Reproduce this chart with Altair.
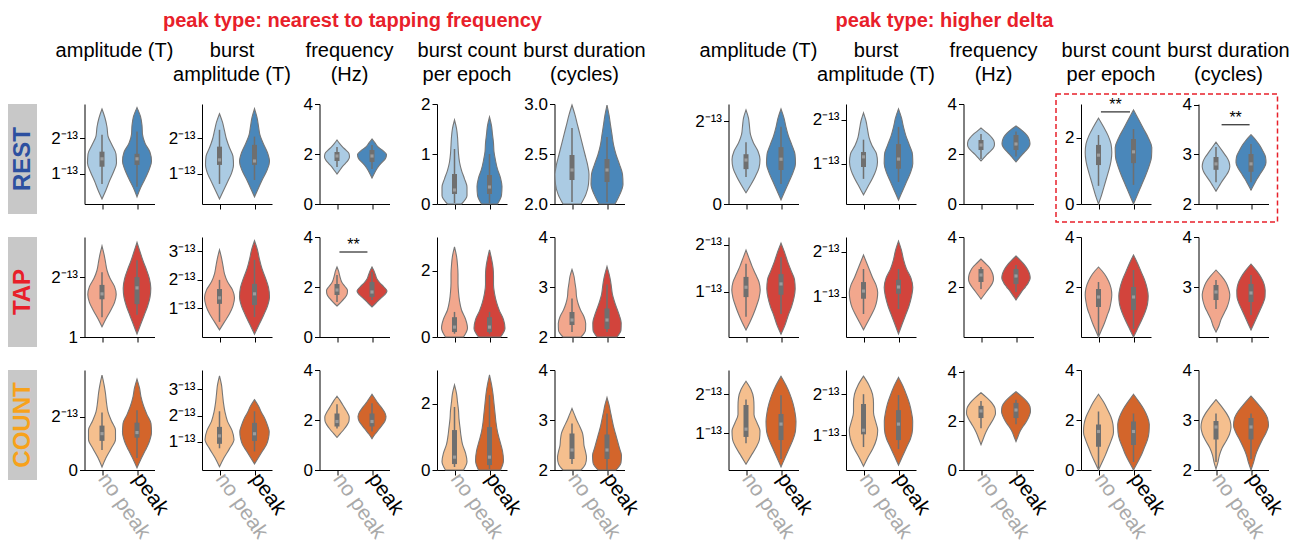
import altair as alt
import pandas as pd

FONT = "Liberation Sans"
SUP = "⁻¹³"

GROUP_TITLES = ["peak type: nearest to tapping frequency", "peak type: higher delta"]
METRIC_TITLES = [["amplitude (T)", " "], ["burst", "amplitude (T)"], ["frequency", "(Hz)"],
                 ["burst count", "per epoch"], ["burst duration", "(cycles)"]]
CONDITIONS = ["REST", "TAP", "COUNT"]
CONDITION_COLORS = ["#2d50a0", "#e8202a", "#f7a21b"]
CATEGORIES = ["no peak", "peak"]
VIOLIN_COLORS = [["#abcbe3", "#4a87ba"], ["#f2a78d", "#d2443c"], ["#f5bf8e", "#d3652b"]]

# ---- y axis ranges / ticks (10 panels per row: 5 'nearest', 5 'higher delta') ----
REST_YDOMAIN = [[0.16, 2.95], [0.16, 2.95], [0, 4], [0, 2], [2, 3], [0, 2.41], [0.09, 2.36], [0, 4], [0, 3.03], [2, 4.02]]
TAP_YDOMAIN = [[1, 2.67], [0, 3.5], [0, 4], [0, 3.03], [2, 4], [0.04, 2.17], [0.11, 2.33], [0, 4], [0, 4], [2, 4]]
COUNT_YDOMAIN = [[0, 3.74], [-0.06, 3.72], [0, 4], [0, 3.03], [2, 4], [0.05, 2.62], [0.15, 2.59], [0, 4.1], [0, 4], [2, 4]]

REST_YTICKS = [[1, 2], [1, 2], [0, 2, 4], [0, 1, 2], [2, 2.5, 3], [0, 2], [1, 2], [0, 2, 4], [0, 2], [2, 3, 4]]
TAP_YTICKS = [[1, 2], [1, 2, 3], [0, 2, 4], [0, 2], [2, 3, 4], [1, 2], [1, 2], [2, 4], [2, 4], [3, 4]]
COUNT_YTICKS = [[0, 2], [1, 2, 3], [0, 2, 4], [0, 2], [2, 3, 4], [1, 2], [1, 2], [0, 2, 4], [0, 2, 4], [2, 3, 4]]

REST_YLABELS = [["1" + SUP, "2" + SUP], ["1" + SUP, "2" + SUP], ["0", "2", "4"], ["0", "1", "2"],
                ["2.0", "2.5", "3.0"], ["0", "2" + SUP], ["1" + SUP, "2" + SUP], ["0", "2", "4"],
                ["0", "2"], ["2", "3", "4"]]
TAP_YLABELS = [["1", "2" + SUP], ["1" + SUP, "2" + SUP, "3" + SUP], ["0", "2", "4"], ["0", "2"],
               ["2", "3", "4"], ["1" + SUP, "2" + SUP], ["1" + SUP, "2" + SUP], ["2", "4"],
               ["2", "4"], ["3", "4"]]
COUNT_YLABELS = [["0", "2" + SUP], ["1" + SUP, "2" + SUP, "3" + SUP], ["0", "2", "4"], ["0", "2"],
                 ["2", "3", "4"], ["1" + SUP, "2" + SUP], ["1" + SUP, "2" + SUP], ["0", "2", "4"],
                 ["0", "2", "4"], ["2", "3", "4"]]

# ---- violin shapes: (min, max, relative half-width read at 11 evenly spaced levels) ----
REST_NOPEAK_SHAPE = [
    (0.30, 2.81, [0, 4, 7.5, 11.5, 14.5, 14, 10, 6, 5, 3, 0]),
    (0.30, 2.68, [0, 4, 8, 12, 14, 13.5, 10, 7, 5, 3, 0]),
    (1.20, 2.56, [0, 2.5, 5, 8, 11, 12.5, 12, 9, 5.5, 2.5, 0]),
    (0.00, 1.68, [7, 12.5, 12.5, 10, 7, 5, 4, 3.5, 3, 2, 0]),
    (2.00, 2.99, [9, 14, 16.5, 17, 15.5, 13, 10.5, 8, 5.5, 3, 0]),
    (0.27, 2.27, [0, 5, 9.5, 13, 14, 12, 7.5, 4.5, 3.5, 2.5, 0]),
    (0.30, 2.16, [0, 4.5, 9, 12.5, 14, 13, 8.5, 5.5, 4, 2.5, 0]),
    (1.72, 3.04, [0, 3, 6, 9.5, 12.5, 13.5, 13, 11, 8, 4, 0]),
    (0.00, 2.60, [0, 3, 5.5, 8, 10.5, 12.5, 13.3, 12.5, 9.5, 5, 0]),
    (2.26, 3.25, [0, 3, 6, 9.5, 12.5, 13.8, 13, 10.5, 7, 3.5, 0]),
]
REST_PEAK_SHAPE = [
    (0.36, 2.85, [0, 3.5, 8, 12, 14.5, 13, 8, 5.5, 5, 3.5, 0]),
    (0.36, 2.82, [0, 4, 8, 12.5, 15, 13, 9, 5.5, 4, 2.5, 0]),
    (1.04, 2.60, [0, 2, 4, 6.5, 10, 13.5, 14.5, 11, 6, 3, 0]),
    (0.00, 1.74, [8, 12, 12.5, 11, 8, 6, 4.5, 4, 3, 2, 0]),
    (2.00, 2.99, [8, 13, 16, 15.5, 12.5, 9, 6.5, 5, 3.5, 2, 0]),
    (0.10, 2.29, [0, 4, 8, 12, 14.5, 14, 11, 7.5, 5, 3, 0]),
    (0.18, 2.25, [0, 4, 8, 12, 14.3, 14, 11, 7.5, 5, 3, 0]),
    (1.68, 3.12, [0, 3, 6, 9.5, 12.5, 14, 13.5, 12, 9, 5, 0]),
    (0.00, 2.85, [0, 4, 8, 12, 15.5, 18, 18.3, 15, 10, 5, 0]),
    (2.28, 3.40, [0, 3, 6, 9.5, 13, 15, 14.5, 12, 9, 5, 0]),
]
TAP_NOPEAK_SHAPE = [
    (1.17, 2.52, [0, 4, 8.5, 12.5, 14.2, 12.5, 8, 5, 3.5, 2, 0]),
    (0.25, 3.05, [0, 5, 10, 13.5, 15, 13, 8, 5, 3.5, 2, 0]),
    (1.24, 2.80, [0, 4, 7.5, 10, 10.5, 8, 5, 3.5, 2.5, 1.5, 0]),
    (0.00, 2.73, [9, 13, 11, 7, 5, 4, 3.5, 3.5, 3, 2, 0]),
    (2.00, 3.35, [9, 13.5, 13.7, 12, 8.5, 6, 4.5, 4, 3, 2, 0]),
    (0.19, 1.89, [0, 4, 7.5, 10.5, 13, 14.2, 13, 9.5, 6, 3, 0]),
    (0.27, 1.93, [0, 4, 8, 11.5, 13.5, 14.2, 12.5, 9, 6, 3, 0]),
    (1.52, 3.12, [0, 3, 6, 9, 11.5, 12.5, 12, 10.5, 8, 4, 0]),
    (0.00, 2.80, [0, 3, 6, 8.5, 11, 12.5, 13.3, 12.5, 10, 6, 0]),
    (2.10, 3.34, [0, 3, 5, 8, 11, 13, 13.8, 12.5, 10, 5.5, 0]),
]
TAP_PEAK_SHAPE = [
    (1.05, 2.58, [0, 3.5, 7, 10.5, 13, 13.8, 12.5, 9.5, 6, 3, 0]),
    (0.10, 3.37, [0, 4.5, 9, 13, 15, 14, 11, 7.5, 5, 3, 0]),
    (1.20, 2.80, [0, 4, 8, 12.5, 15, 12, 8, 5, 3.5, 2, 0]),
    (0.00, 2.64, [11, 15.5, 14, 10, 7, 5, 4, 4, 3.5, 2, 0]),
    (2.00, 3.41, [10, 14, 14.2, 12.5, 10, 7.5, 5.5, 4.5, 3.5, 2, 0]),
    (0.10, 2.04, [0, 4, 7, 10.5, 13, 14.2, 13.5, 10, 6.5, 3.5, 0]),
    (0.18, 2.24, [0, 3.5, 7, 10.5, 13, 14.3, 12.5, 8, 5, 3, 0]),
    (1.48, 3.24, [0, 3, 6, 9.5, 12.5, 14.2, 13.5, 11.5, 8.5, 4.5, 0]),
    (0.00, 3.28, [0, 4, 8, 11.5, 14, 14.7, 13.5, 11, 7.5, 4, 0]),
    (2.14, 3.46, [0, 3, 6, 9, 12, 14, 14.2, 13, 10, 5.5, 0]),
]
COUNT_NOPEAK_SHAPE = [
    (0.11, 3.55, [0, 4, 9, 13.5, 13.5, 9.5, 6, 4.5, 3.5, 2, 0]),
    (0.06, 3.50, [0, 4.5, 10, 14.5, 12.5, 8, 5.5, 4, 3, 2, 0]),
    (1.30, 2.95, [0, 3.5, 7, 10, 12, 12.2, 10.5, 8, 5.5, 3, 0]),
    (0.00, 2.58, [9, 12.5, 11, 8, 6.5, 5.5, 4.5, 4, 3, 2, 0]),
    (2.00, 3.23, [9, 13.5, 14.5, 13.5, 12, 11.5, 10.5, 8, 5, 2.5, 0]),
    (0.20, 2.33, [0, 5, 10, 13.5, 14, 11, 8, 8, 7.5, 5, 0]),
    (0.24, 2.44, [0, 4.5, 9.5, 13, 14.2, 12, 10, 10, 9, 5.5, 0]),
    (1.04, 3.17, [0, 2, 4, 6.5, 9.5, 12.5, 14.5, 14, 11, 6, 0]),
    (0.00, 3.03, [0, 3.5, 7, 10, 13, 15, 14.5, 12.5, 9, 5, 0]),
    (2.02, 3.41, [0, 2, 3.5, 6, 10, 13.5, 15, 14, 10.5, 5.5, 0]),
]
COUNT_PEAK_SHAPE = [
    (0.08, 3.40, [0, 4, 8.5, 12.5, 14.5, 14, 10, 6.5, 4, 2.5, 0]),
    (0.17, 2.60, [0, 4, 8, 12, 14, 14.7, 13, 10.5, 7, 4, 0]),
    (1.25, 3.03, [0, 3, 6.5, 10, 13, 14, 12.5, 9.5, 6, 3, 0]),
    (0.00, 2.88, [11, 14, 13, 10.5, 8, 6.5, 5.5, 4.5, 3.5, 2, 0]),
    (2.00, 3.45, [9, 14, 14.5, 12.5, 10.5, 8.5, 6.5, 5, 3.5, 2, 0]),
    (0.13, 2.46, [0, 4, 8, 12, 14.5, 15, 14, 12, 9, 5, 0]),
    (0.27, 2.41, [0, 4, 8, 12, 14, 14.2, 13, 11, 8, 4.5, 0]),
    (1.17, 3.21, [0, 2, 4, 7, 10.5, 13, 14.5, 14, 11, 6, 0]),
    (0.00, 3.03, [0, 4, 8, 11, 14, 15.5, 15.8, 14, 10.5, 5.5, 0]),
    (2.00, 3.48, [0, 2.5, 4.5, 7.5, 11, 15, 17.5, 16.5, 12.5, 6.5, 0]),
]

# ---- inner box: (whisker low, q1, median, q3, whisker high) ----
REST_NOPEAK_BOX = [(0.72, 1.20, 1.42, 1.62, 2.09), (0.72, 1.25, 1.39, 1.76, 2.23), (1.48, 1.72, 1.92, 2.08, 2.28),
                   (0.02, 0.20, 0.28, 0.60, 1.10), (2.02, 2.24, 2.34, 2.49, 2.76), (0.65, 0.84, 1.06, 1.20, 1.49),
                   (0.66, 0.93, 1.16, 1.27, 1.55), (1.80, 2.16, 2.36, 2.56, 2.80), (0.55, 1.18, 1.48, 1.79, 2.09),
                   (2.44, 2.69, 2.81, 2.95, 3.15)]
REST_PEAK_BOX = [(0.64, 1.25, 1.42, 1.56, 2.18), (0.83, 1.25, 1.36, 1.81, 2.04), (1.40, 1.68, 1.92, 2.16, 2.36),
                 (0.02, 0.20, 0.34, 0.58, 1.00), (2.02, 2.22, 2.34, 2.45, 2.67), (0.48, 0.82, 1.08, 1.37, 1.86),
                 (0.59, 0.89, 1.11, 1.45, 1.84), (1.90, 2.16, 2.40, 2.76, 2.90), (0.58, 1.24, 1.58, 1.97, 2.27),
                 (2.44, 2.65, 2.81, 3.01, 3.21)]
TAP_NOPEAK_BOX = [(1.33, 1.63, 1.72, 1.87, 2.08), (0.53, 1.16, 1.37, 1.68, 2.00), (1.40, 1.68, 1.88, 2.12, 2.48),
                  (0.10, 0.15, 0.30, 0.60, 0.76), (2.10, 2.24, 2.34, 2.50, 2.77), (0.47, 0.89, 1.10, 1.32, 1.60),
                  (0.62, 0.96, 1.13, 1.33, 1.62), (1.92, 2.20, 2.48, 2.72, 2.80), (0.08, 1.20, 1.60, 1.92, 2.20),
                  (2.56, 2.74, 2.90, 3.04, 3.14)]
TAP_PEAK_BOX = [(1.37, 1.55, 1.82, 2.00, 2.28), (0.70, 1.12, 1.51, 1.86, 2.70), (1.48, 1.60, 1.80, 2.20, 2.60),
                (0.10, 0.15, 0.30, 0.60, 0.76), (2.10, 2.16, 2.34, 2.57, 3.05), (0.53, 0.94, 1.17, 1.38, 1.74),
                (0.73, 1.07, 1.22, 1.38, 1.62), (1.80, 2.12, 2.44, 2.72, 2.88), (0.32, 1.08, 1.60, 2.00, 2.68),
                (2.44, 2.70, 2.88, 3.06, 3.24)]
COUNT_NOPEAK_BOX = [(0.75, 1.09, 1.36, 1.66, 2.15), (0.76, 0.93, 1.23, 1.57, 2.16), (1.66, 1.74, 1.94, 2.26, 2.63),
                    (0.09, 0.18, 0.39, 1.21, 1.91), (2.12, 2.22, 2.40, 2.73, 2.93), (0.74, 0.90, 1.10, 1.72, 1.86),
                    (0.71, 1.02, 1.12, 1.76, 2.00), (1.71, 2.13, 2.42, 2.63, 2.83), (0.08, 0.93, 1.54, 1.82, 2.34),
                    (2.16, 2.61, 2.86, 2.98, 3.13)]
COUNT_PEAK_BOX = [(0.45, 1.21, 1.40, 1.77, 2.23), (0.64, 1.04, 1.31, 1.72, 2.16), (1.54, 1.74, 1.94, 2.26, 2.67),
                  (0.03, 0.15, 0.39, 1.30, 2.27), (2.00, 2.22, 2.40, 2.71, 3.13), (0.33, 0.82, 1.23, 1.49, 1.97),
                  (0.66, 0.88, 1.27, 1.61, 1.98), (1.88, 2.13, 2.46, 2.75, 2.88), (0.32, 1.00, 1.54, 1.94, 2.26),
                  (2.22, 2.61, 2.86, 3.04, 3.13)]

# significance bars: (condition, panel index, x from, x to, y)
SIGNIFICANCE = [("REST", 8, 0.57, 1.40, 2.79), ("REST", 9, 0.66, 1.46, 3.60), ("TAP", 2, 0.57, 1.37, 3.40)]
SIG_TEXT = "**"
# highlighted panels (dashed box): condition, first panel, last panel
HIGHLIGHT = ("REST", 8, 9)

YDOMAINS = [REST_YDOMAIN, TAP_YDOMAIN, COUNT_YDOMAIN]
YTICKS = [REST_YTICKS, TAP_YTICKS, COUNT_YTICKS]
YLABELS = [REST_YLABELS, TAP_YLABELS, COUNT_YLABELS]
SHAPES = [[REST_NOPEAK_SHAPE, REST_PEAK_SHAPE], [TAP_NOPEAK_SHAPE, TAP_PEAK_SHAPE], [COUNT_NOPEAK_SHAPE, COUNT_PEAK_SHAPE]]
BOXES = [[REST_NOPEAK_BOX, REST_PEAK_BOX], [TAP_NOPEAK_BOX, TAP_PEAK_BOX], [COUNT_NOPEAK_BOX, COUNT_PEAK_BOX]]

FILL_DOMAIN = [f"{cond} {cat}" for cond in CONDITIONS for cat in CATEGORIES]
FILL_RANGE = [col for pair in VIOLIN_COLORS for col in pair]

# ---- layout ----
PANEL_W, PANEL_H = 70, 100
LABEL_W, LABEL_H = 29, 110
COL_SP, ROW_SP = 47.5, 23
GAP_W = 8.5
TITLE_H = 40
YLABEL_SIZE = 17
FRAME_TOP = 10
WSCALE = 2.0 / PANEL_W  # half-width units -> x scale units
BOX_COLOR = "#6f6f6f"
RED = "#e8202a"


def label_expr(ticks, labels):
    expr = "''"
    for t, l in reversed(list(zip(ticks, labels))):
        expr = f"datum.value == {t} ? '{l}' : ({expr})"
    return expr


def panel(r, c):
    cond = CONDITIONS[r]
    recs = []
    for k in range(2):
        lo, hi, widths = SHAPES[r][k][c]
        n = len(widths) - 1
        for i, w in enumerate(widths):
            recs.append({"kind": "violin", "cat": f"{cond} {CATEGORIES[k]}", "v": lo + (hi - lo) * i / n,
                         "xl": k + 0.5 - w * WSCALE, "xr": k + 0.5 + w * WSCALE})
        wlo, q1, med, q3, whi = BOXES[r][k][c]
        recs.append({"kind": "whisker", "cat": "", "v": wlo, "v2": whi, "xc": k + 0.5})
        recs.append({"kind": "iqr", "cat": "", "v": q1, "v2": q3, "xc": k + 0.5})
        recs.append({"kind": "median", "cat": "", "v": med, "xc": k + 0.5})
    has_sig = False
    for (sr, sc, x1, x2, y) in SIGNIFICANCE:
        if sr == cond and sc == c:
            has_sig = True
            recs.append({"kind": "sig", "cat": "", "v": y, "xl": x1, "xr": x2, "xc": (x1 + x2) / 2, "t": SIG_TEXT})
    has_frame = HIGHLIGHT[0] == cond and HIGHLIGHT[1] == c
    if has_frame:
        recs.append({"kind": "frame", "cat": "", "v": YDOMAINS[r][c][0], "xc": 0})
    df = pd.DataFrame(recs)

    dmin, dmax = YDOMAINS[r][c]
    ysc = alt.Scale(domain=[dmin, dmax], nice=False, zero=False)
    yax = alt.Axis(values=YTICKS[r][c], labelExpr=label_expr(YTICKS[r][c], YLABELS[r][c]), title=None,
                   grid=False, labelFlush=False, labelOverlap=False, labelBound=False, labelFontSize=YLABEL_SIZE,
                   labelColor="black", labelPadding=2, tickSize=5, tickColor="black", domainColor="black",
                   tickWidth=1, domainWidth=1, labelFont=FONT)
    Y = alt.Y("v:Q", scale=ysc, axis=yax)
    xsc = alt.Scale(domain=[0, 2], nice=False, zero=False)
    xax = alt.Axis(values=[0.5, 1.5], title=None, grid=False, labels=(r == 2),
                   labelExpr="datum.value < 1 ? 'no peak' : 'peak'", labelAngle=55, labelAlign="left",
                   labelBaseline="middle", labelFontSize=21, labelFont=FONT, labelPadding=0,
                   labelColor={"condition": {"test": "datum.value < 1", "value": "#a9a9a9"}, "value": "black"},
                   labelFlush=False, labelOverlap=False, labelBound=False,
                   tickSize=5, tickColor="black", domainColor="black", tickWidth=1, domainWidth=1)

    base = alt.Chart(df)
    violin = base.transform_filter("datum.kind == 'violin'").mark_area(
        orient="horizontal", interpolate="monotone", stroke="#767676", strokeWidth=1.1, opacity=1
    ).encode(
        y=Y, x=alt.X("xl:Q", scale=xsc, axis=xax, stack=False), x2="xr:Q",
        fill=alt.Fill("cat:N", scale=alt.Scale(domain=FILL_DOMAIN, range=FILL_RANGE), legend=None),
    )
    whisker = base.transform_filter("datum.kind == 'whisker'").mark_rule(
        color=BOX_COLOR, strokeWidth=1.5).encode(x=alt.X("xc:Q", scale=xsc, axis=xax), y=Y, y2="v2:Q")
    iqr = base.transform_filter("datum.kind == 'iqr'").mark_rule(
        color=BOX_COLOR, strokeWidth=5).encode(x=alt.X("xc:Q", scale=xsc, axis=xax), y=Y, y2="v2:Q")
    median = base.transform_filter("datum.kind == 'median'").mark_point(
        filled=True, shape="square", size=10, color="#9c9c9c", opacity=1).encode(
        x=alt.X("xc:Q", scale=xsc, axis=xax), y=Y)
    layers = [violin, whisker, iqr, median]
    if has_sig:
        layers.append(base.transform_filter("datum.kind == 'sig'").mark_rule(color="black", strokeWidth=1).encode(
            x=alt.X("xl:Q", scale=xsc, axis=xax), x2="xr:Q", y=Y))
        layers.append(base.transform_filter("datum.kind == 'sig'").mark_text(
            fontSize=16, baseline="alphabetic", dy=-2, color="black", font=FONT).encode(
            x=alt.X("xc:Q", scale=xsc, axis=xax), y=Y, text="t:N"))
    if has_frame:
        span = HIGHLIGHT[2] - HIGHLIGHT[1]
        layers.append(base.transform_filter("datum.kind == 'frame'").mark_rect(
            fillOpacity=0, stroke=RED, strokeDash=[5, 3], strokeWidth=1.5).encode(
            x=alt.value(-25), x2=alt.value(PANEL_W + span * (PANEL_W + COL_SP) + 9),
            y=alt.value(-FRAME_TOP), y2=alt.value(PANEL_H + 18)))
    ch = alt.layer(*layers).properties(width=PANEL_W, height=PANEL_H)
    if r == 0:
        # anything overhanging the plot top pushes the title up; compensate
        top_gap = (dmax - max(YTICKS[r][c])) / (dmax - dmin) * PANEL_H
        overhang = max(0.0, YLABEL_SIZE / 2 - top_gap)
        if has_frame:
            overhang = max(overhang, FRAME_TOP + 0.75)
        ch = ch.properties(title=alt.TitleParams(
            text=METRIC_TITLES[c % 5], fontSize=20, fontWeight="normal", color="black", font=FONT,
            anchor="middle", offset=19 - overhang, lineHeight=24, dx=-5))
    return ch


def blank(w, h, title=None):
    ch = alt.Chart(pd.DataFrame({"t": [""]})).mark_text().encode(text="t:N").properties(width=w, height=h)
    if title is not None:
        ch = ch.properties(title=title)
    return ch


def group_title(text, dx):
    return alt.TitleParams(text=text, fontSize=20, fontWeight="bold", color=RED, font=FONT,
                           anchor="middle", offset=10, dx=dx)


col_widths = [LABEL_W] + [PANEL_W] * 5 + [GAP_W] + [PANEL_W] * 5
cells = []
for j, w in enumerate(col_widths):
    if j == 3:
        cells.append(blank(w, TITLE_H, group_title(GROUP_TITLES[0], -2)))
    elif j == 9:
        cells.append(blank(w, TITLE_H, group_title(GROUP_TITLES[1], -54)))
    else:
        cells.append(blank(w, TITLE_H))

for r in range(3):
    lab = alt.Chart(pd.DataFrame({"t": [CONDITIONS[r]]})).mark_text(
        angle=270, fontSize=24, fontWeight="bold", font=FONT, color=CONDITION_COLORS[r]
    ).encode(text="t:N").properties(width=LABEL_W, height=LABEL_H,
                                    view=alt.ViewBackground(fill="#c8c8c8", stroke=None))
    cells.append(lab)
    for c in range(5):
        cells.append(panel(r, c))
    cells.append(blank(GAP_W, PANEL_H))
    for c in range(5, 10):
        cells.append(panel(r, c))

chart = alt.concat(*cells, columns=12, spacing={"row": ROW_SP, "column": COL_SP},
                   bounds="flush", align="each").properties(
    padding={"left": 0, "top": 3, "right": 2, "bottom": 0}
).configure(font=FONT).configure_view(stroke=None)

chart.save("out.html", embed_options={"renderer": "svg", "actions": False})
